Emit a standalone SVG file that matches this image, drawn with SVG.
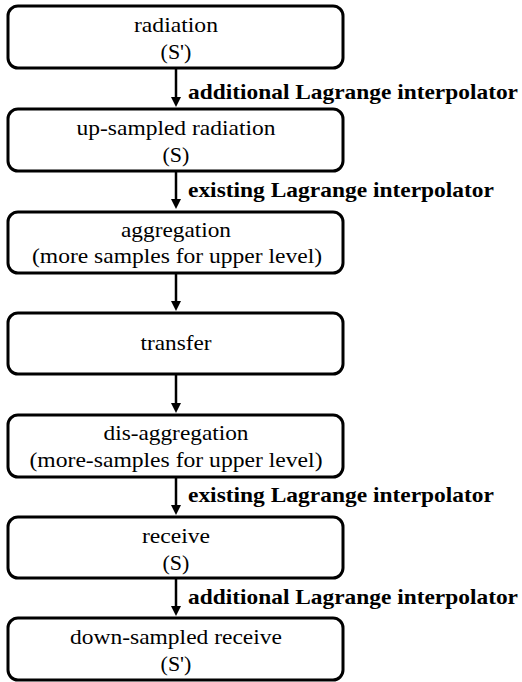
<svg xmlns="http://www.w3.org/2000/svg" width="522" height="682" viewBox="0 0 522 682">
<style>
.box{fill:#fff;stroke:#000;stroke-width:3}
.t{font-family:'Liberation Serif','Times New Roman',serif;font-size:22px;text-anchor:middle;fill:#000}
.l{font-family:'Liberation Serif','Times New Roman',serif;font-size:21px;font-weight:bold;fill:#000}
.c{stroke:#000;stroke-width:2.5;fill:none}
</style>
<rect width="522" height="682" fill="#fff"/>
<g id="connectors">
<line class="c" x1="176" y1="69" x2="176" y2="99"/><path d="M171,97 L181,97 L176,107 Z"/>
<line class="c" x1="176" y1="172" x2="176" y2="201"/><path d="M171,199 L181,199 L176,209 Z"/>
<line class="c" x1="176" y1="274" x2="176" y2="303"/><path d="M171,301 L181,301 L176,311 Z"/>
<line class="c" x1="176" y1="375" x2="176" y2="405"/><path d="M171,403 L181,403 L176,413 Z"/>
<line class="c" x1="176" y1="477" x2="176" y2="507"/><path d="M171,505 L181,505 L176,515 Z"/>
<line class="c" x1="176" y1="579" x2="176" y2="608"/><path d="M171,606 L181,606 L176,616 Z"/>
<text class="l" x="188" y="99" textLength="330" lengthAdjust="spacingAndGlyphs">additional Lagrange interpolator</text>
<text class="l" x="188" y="197" textLength="306" lengthAdjust="spacingAndGlyphs">existing Lagrange interpolator</text>
<text class="l" x="188" y="502" textLength="306" lengthAdjust="spacingAndGlyphs">existing Lagrange interpolator</text>
<text class="l" x="188" y="604" textLength="330" lengthAdjust="spacingAndGlyphs">additional Lagrange interpolator</text>
</g>
<g id="n1"><rect class="box" x="8" y="6" width="335" height="62" rx="10"/><text class="t" x="176" y="32" textLength="84" lengthAdjust="spacingAndGlyphs">radiation</text><text class="t" x="176" y="59">(S')</text></g>
<g id="n2"><rect class="box" x="8" y="109" width="335" height="62" rx="10"/><text class="t" x="176" y="135" textLength="199" lengthAdjust="spacingAndGlyphs">up-sampled radiation</text><text class="t" x="176" y="162">(S)</text></g>
<g id="n3"><rect class="box" x="8" y="212" width="335" height="61" rx="10"/><text class="t" x="176" y="237" textLength="110" lengthAdjust="spacingAndGlyphs">aggregation</text><text class="t" x="177" y="263" textLength="290" lengthAdjust="spacingAndGlyphs">(more samples for upper level)</text></g>
<g id="n4"><rect class="box" x="8" y="313" width="335" height="61" rx="10"/><text class="t" x="176" y="350" textLength="71" lengthAdjust="spacingAndGlyphs">transfer</text></g>
<g id="n5"><rect class="box" x="8" y="415" width="335" height="62" rx="10"/><text class="t" x="176" y="440" textLength="145" lengthAdjust="spacingAndGlyphs">dis-aggregation</text><text class="t" x="176" y="467" textLength="293" lengthAdjust="spacingAndGlyphs">(more-samples for upper level)</text></g>
<g id="n6"><rect class="box" x="8" y="517" width="335" height="61" rx="10"/><text class="t" x="176" y="543" textLength="68" lengthAdjust="spacingAndGlyphs">receive</text><text class="t" x="176" y="570">(S)</text></g>
<g id="n7"><rect class="box" x="8" y="618" width="335" height="62" rx="10"/><text class="t" x="176" y="644" textLength="212" lengthAdjust="spacingAndGlyphs">down-sampled receive</text><text class="t" x="176" y="671">(S')</text></g>
</svg>
